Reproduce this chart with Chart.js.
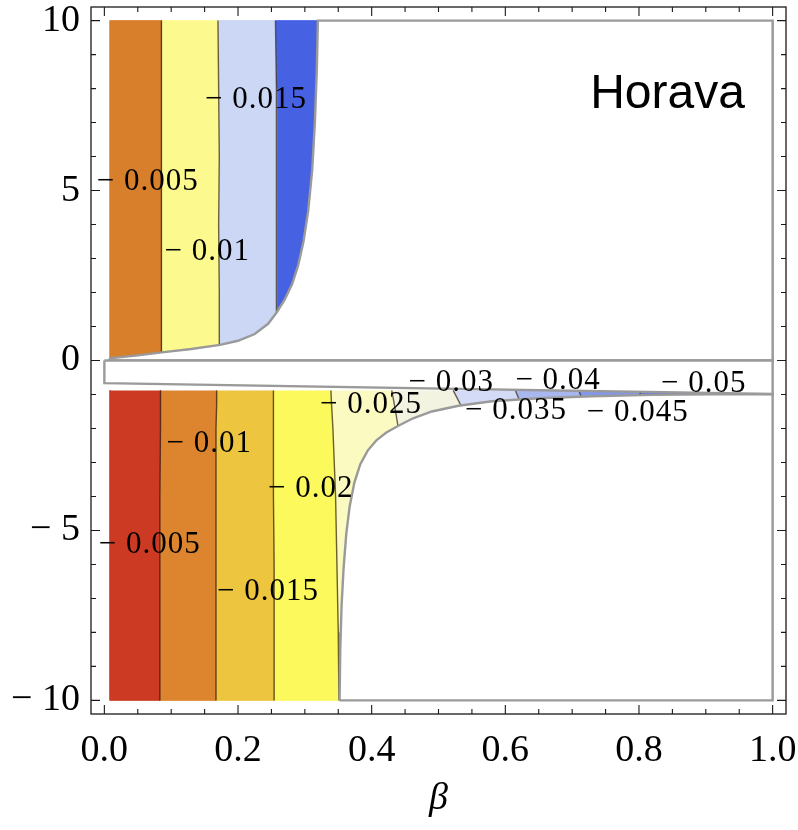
<!DOCTYPE html>
<html>
<head>
<meta charset="utf-8">
<title>Horava contour</title>
<script src="https://cdn.jsdelivr.net/npm/chart.js@4.4.1/dist/chart.umd.min.js"></script>
<style>
  html, body { margin: 0; padding: 0; background: #fff; }
  canvas { display: block; }
</style>
</head>
<body>
<canvas id="contourChart" width="798" height="830"></canvas>
<script>
// Axis ranges and tick labels
const xRange = [-0.02, 1.02];
const yRange = [-10.4, 10.4];
const xTickValues = [0, 0.2, 0.4, 0.6, 0.8, 1.0];
const yTickValues = [-10, -5, 0, 5, 10];

// Upper plot (y > 0): contour lines x(y), sampled at upperLineY
const upperLineY = [0, 2, 4, 6, 8, 10];
const upperEdgeX = [0.008, 0.008, 0.008, 0.008, 0.008, 0.008];
const upperLine1X = [0.085, 0.086, 0.085, 0.086, 0.085, 0.085]; // -0.005
const upperLine2X = [0.172, 0.172, 0.171, 0.172, 0.171, 0.170]; // -0.01
const upperLine3X = [0.258, 0.258, 0.258, 0.257, 0.257, 0.256]; // -0.015
const upperColors = ['#D87F2C', '#FCFA8E', '#CCD6F5', '#4662E3'];

// Upper plot: edge of the defined region
const upperCurveX = [0.008, 0.05, 0.086, 0.13, 0.173, 0.20, 0.225, 0.245, 0.258, 0.270, 0.281,
                     0.290, 0.298, 0.305, 0.311, 0.315, 0.318, 0.3195];
const upperCurveY = [0.065, 0.15, 0.24, 0.34, 0.46, 0.58, 0.78, 1.08, 1.42, 1.80, 2.25,
                     2.80, 3.5, 4.4, 5.6, 7.0, 8.6, 10];

// Lower plot (y < -0.88): contour lines x(y), sampled at lowerLineY
const lowerLineY = [-0.88, -1.3, -2, -4, -6, -8, -10];
const lowerEdgeX = [0.0084, 0.0084, 0.0084, 0.0084, 0.0084, 0.0084, 0.0084];
const lowerLine1X = [0.084, 0.084, 0.084, 0.083, 0.083, 0.083, 0.083]; // -0.005
const lowerLine2X = [0.168, 0.168, 0.167, 0.167, 0.167, 0.167, 0.167]; // -0.01
const lowerLine3X = [0.253, 0.253, 0.253, 0.253, 0.254, 0.254, 0.254]; // -0.015
const lowerLine4X = [0.339, 0.340, 0.342, 0.346, 0.348, 0.350, 0.351]; // -0.02
const lowerLine5X = [0.430, 0.434, 0.440, 0.440, 0.440, 0.440, 0.440]; // -0.025
const lowerLine6X = [0.522, 0.533, 0.536, 0.536, 0.536, 0.536, 0.536]; // -0.03
const lowerLine7X = [0.615, 0.624, 0.626, 0.626, 0.626, 0.626, 0.626]; // -0.035
const lowerLine8X = [0.710, 0.718, 0.720, 0.720, 0.720, 0.720, 0.720]; // -0.04
const lowerLine9X = [0.800, 0.808, 0.810, 0.810, 0.810, 0.810, 0.810]; // -0.045
const lowerColors = ['#CC3A23', '#DC852E', '#EEC53E', '#FCF95C', '#FBFAC0',
                     '#F3F3E1', '#D4DBF6', '#A9B7F1', '#8297EE', '#6079EA'];

// Lower plot: edge of the defined region
const lowerCurveX = [0.352, 0.353, 0.355, 0.358, 0.362, 0.367, 0.374, 0.383, 0.394, 0.407, 0.422,
                     0.440, 0.462, 0.49, 0.53, 0.58, 0.65, 0.73, 0.82, 0.91, 1.0];
const lowerCurveY = [-10, -8.5, -7.2, -6.1, -5.1, -4.3, -3.6, -3.05, -2.65, -2.35, -2.12,
                     -1.92, -1.70, -1.50, -1.33, -1.20, -1.11, -1.05, -1.01, -0.995, -0.985];

// White strip between the two plots
const gapX = [0, 1, 1, 0, 0];
const gapY = [0, 0, -0.985, -0.665, 0];

// Contour labels
const labelText = ['− 0.015', '− 0.005', '− 0.01', '− 0.01', '− 0.02', '− 0.005', '− 0.015',
                   '− 0.025', '− 0.03', '− 0.035', '− 0.04', '− 0.045', '− 0.05'];
const labelX = [0.227, 0.065, 0.154, 0.157, 0.309, 0.068, 0.245, 0.399, 0.519, 0.616, 0.679, 0.798, 0.897];
const labelY = [7.66, 5.25, 3.19, -2.46, -3.78, -5.43, -6.81, -1.31, -0.66, -1.49, -0.60, -1.54, -0.69];

const serif = '"Liberation Serif", "Times New Roman", Times, serif';
const lineColor = 'rgba(45, 32, 18, 0.7)';
const edgeColor = '#9a9a9a';

function toPoints(xs, ys) {
    return xs.map((x, i) => ({ x: x, y: ys[i] }));
}

// polygon between two contour lines sharing the same y samples
function bandPolygon(leftXs, rightXs, ys) {
    const pts = toPoints(leftXs, ys);
    for (let i = ys.length - 1; i >= 0; i--) {
        pts.push({ x: rightXs[i], y: ys[i] });
    }
    return pts;
}

function fillSet(points, color, order) {
    return {
        data: points, fill: 'shape', backgroundColor: color,
        borderColor: color, borderWidth: 0.8, pointRadius: 0, order: order
    };
}

function lineSet(points, color, width, order) {
    return {
        data: points, fill: false, borderColor: color,
        borderWidth: width, pointRadius: 0, order: order
    };
}

const datasets = [];

// colour bands
const upperBounds = [upperEdgeX, upperLine1X, upperLine2X, upperLine3X, upperLineY.map(() => 1)];
upperColors.forEach((c, i) => {
    datasets.push(fillSet(bandPolygon(upperBounds[i], upperBounds[i + 1], upperLineY), c, 40));
});
const lowerBounds = [lowerEdgeX, lowerLine1X, lowerLine2X, lowerLine3X, lowerLine4X, lowerLine5X,
                     lowerLine6X, lowerLine7X, lowerLine8X, lowerLine9X, lowerLineY.map(() => 1)];
lowerColors.forEach((c, i) => {
    datasets.push(fillSet(bandPolygon(lowerBounds[i], lowerBounds[i + 1], lowerLineY), c, 40));
});

// contour lines
[upperLine1X, upperLine2X, upperLine3X].forEach(xs => {
    datasets.push(lineSet(toPoints(xs, upperLineY), lineColor, 1.4, 30));
});
[lowerLine1X, lowerLine2X, lowerLine3X, lowerLine4X, lowerLine5X,
 lowerLine6X, lowerLine7X, lowerLine8X, lowerLine9X].forEach(xs => {
    datasets.push(lineSet(toPoints(xs, lowerLineY), lineColor, 1.4, 30));
});

// white masks outside the defined regions
const upperMask = toPoints(upperCurveX, upperCurveY).concat([
    { x: 1, y: 10 }, { x: 1, y: 0 }, { x: upperCurveX[0], y: 0 }, { x: upperCurveX[0], y: upperCurveY[0] }
]);
const lowerMask = toPoints(lowerCurveX, lowerCurveY).concat([
    { x: 1, y: -10 }, { x: lowerCurveX[0], y: -10 }
]);
datasets.push({ data: upperMask, fill: 'shape', backgroundColor: '#fff', borderColor: edgeColor, borderWidth: 2.4, pointRadius: 0, order: 20 });
datasets.push({ data: lowerMask, fill: 'shape', backgroundColor: '#fff', borderColor: edgeColor, borderWidth: 2.4, pointRadius: 0, order: 20 });
datasets.push({ data: toPoints(gapX, gapY), fill: 'shape', backgroundColor: '#fff', borderColor: edgeColor, borderWidth: 2.4, pointRadius: 0, order: 10 });

// frame, inward ticks, labels
const overlayPlugin = {
    id: 'overlay',
    afterDatasetsDraw(chart) {
        const ctx = chart.ctx;
        const xs = chart.scales.x;
        const ys = chart.scales.y;
        const area = chart.chartArea;
        ctx.save();

        // contour labels
        ctx.fillStyle = '#000';
        ctx.font = '31px ' + serif;
        ctx.letterSpacing = '1px';
        ctx.textAlign = 'center';
        ctx.textBaseline = 'middle';
        labelText.forEach((t, i) => {
            ctx.fillText(t, xs.getPixelForValue(labelX[i]), ys.getPixelForValue(labelY[i]));
        });
        ctx.letterSpacing = '0px';

        ctx.font = '48px "Liberation Sans", Arial, sans-serif';
        ctx.textAlign = 'left';
        ctx.textBaseline = 'alphabetic';
        ctx.fillText('Horava', xs.getPixelForValue(0.727), ys.getPixelForValue(7.42));

        // frame
        ctx.strokeStyle = '#1a1a1a';
        ctx.lineWidth = 1.3;
        ctx.strokeRect(area.left, area.top, area.right - area.left, area.bottom - area.top);

        // ticks on all four sides, pointing inward
        ctx.lineWidth = 1.1;
        ctx.beginPath();
        for (let k = 0; k <= 20; k++) {
            const px = xs.getPixelForValue(k * 0.05);
            const len = (k % 4 === 0) ? 9 : 5;
            ctx.moveTo(px, area.bottom); ctx.lineTo(px, area.bottom - len);
            ctx.moveTo(px, area.top); ctx.lineTo(px, area.top + len);
        }
        for (let k = -10; k <= 10; k++) {
            const py = ys.getPixelForValue(k);
            const len = (k % 5 === 0) ? 9 : 5;
            ctx.moveTo(area.left, py); ctx.lineTo(area.left + len, py);
            ctx.moveTo(area.right, py); ctx.lineTo(area.right - len, py);
        }
        ctx.stroke();
        ctx.restore();
    }
};

function noPadding(scale) {
    scale.paddingLeft = 0;
    scale.paddingRight = 0;
    scale.paddingTop = 0;
    scale.paddingBottom = 0;
}

const tickFont = { family: serif, size: 38 };

new Chart(document.getElementById('contourChart').getContext('2d'), {
    type: 'line',
    data: { datasets: datasets },
    options: {
        responsive: false,
        animation: false,
        events: [],
        devicePixelRatio: 1,
        layout: { padding: { top: 7, right: 12, bottom: 0, left: 0 } },
        plugins: { legend: { display: false }, tooltip: { enabled: false } },
        scales: {
            x: {
                type: 'linear',
                min: xRange[0],
                max: xRange[1],
                grid: { display: false, drawTicks: false },
                border: { display: false },
                afterBuildTicks: scale => { scale.ticks = xTickValues.map(v => ({ value: v })); },
                afterFit: scale => { scale.height = 116; noPadding(scale); },
                ticks: {
                    color: '#000',
                    font: tickFont,
                    padding: 14,
                    maxRotation: 0,
                    callback: v => v.toFixed(1)
                },
                title: {
                    display: true,
                    text: 'β',
                    color: '#000',
                    font: { family: serif, size: 38, style: 'italic' },
                    padding: { top: 0, bottom: 8 }
                }
            },
            y: {
                type: 'linear',
                min: yRange[0],
                max: yRange[1],
                grid: { display: false, drawTicks: false },
                border: { display: false },
                afterBuildTicks: scale => { scale.ticks = yTickValues.map(v => ({ value: v })); },
                afterFit: scale => { scale.width = 91; noPadding(scale); },
                ticks: {
                    color: '#000',
                    font: tickFont,
                    padding: 11,
                    callback: v => v < 0 ? '− ' + Math.abs(v) : String(v)
                }
            }
        }
    },
    plugins: [overlayPlugin]
});
</script>
</body>
</html>
